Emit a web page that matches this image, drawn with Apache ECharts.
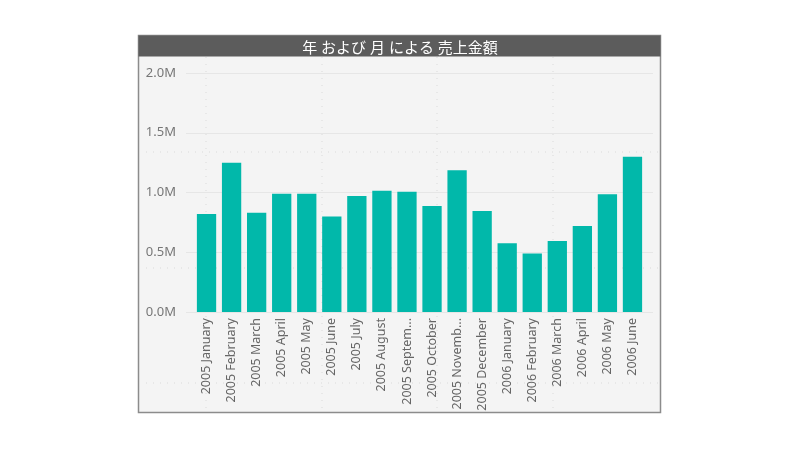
<!DOCTYPE html>
<html>
<head>
<meta charset="utf-8">
<script src="https://cdn.jsdelivr.net/npm/echarts@6/dist/echarts.min.js"></script>
<style>
  html, body { margin: 0; padding: 0; background: #fff; }
  #main { width: 800px; height: 450px; }
</style>
</head>
<body>
<div id="main"></div>
<script>
// 年および月による売上金額
const months = [
  '2005 January', '2005 February', '2005 March', '2005 April', '2005 May', '2005 June',
  '2005 July', '2005 August', '2005 September', '2005 October', '2005 November', '2005 December',
  '2006 January', '2006 February', '2006 March', '2006 April', '2006 May', '2006 June'
];
// labels as shown on the axis (long ones cut off)
const tickLabels = [
  '2005 January', '2005 February', '2005 March', '2005 April', '2005 May', '2005 June',
  '2005 July', '2005 August', '2005 Septem...', '2005 October', '2005 Novemb...', '2005 December',
  '2006 January', '2006 February', '2006 March', '2006 April', '2006 May', '2006 June'
];
const sales = [
  820000, 1250000, 830000, 990000, 990000, 800000,
  970000, 1015000, 1007000, 887000, 1186000, 845000,
  575000, 490000, 594000, 720000, 985000, 1300000
];
const yTicks = { min: 0, max: 2000000, interval: 500000 };

const font = '"Noto Sans", "Noto Sans CJK JP", sans-serif';
const fmtM = v => (v / 1000000).toFixed(1) + 'M';

// Power BI canvas dotted grid
const dotX = [206, 322, 437, 553];
const dotY = [152, 268, 383];
let dots = [];
dotX.forEach(x => dots.push({
  type: 'line', z: -5, silent: true,
  shape: { x1: x, y1: 57, x2: x, y2: 412 },
  style: { stroke: '#dadada', lineWidth: 1, lineDash: [1, 6] }
}));
dotY.forEach(y => dots.push({
  type: 'line', z: -5, silent: true,
  shape: { x1: 139, y1: y, x2: 660, y2: y },
  style: { stroke: '#dadada', lineWidth: 1, lineDash: [1, 6] }
}));

const chart = echarts.init(document.getElementById('main'));
chart.setOption({
  backgroundColor: '#ffffff',
  animation: false,
  textStyle: { fontFamily: font },
  title: {
    text: '年 および 月 による 売上金額',
    left: 'center',
    top: 36,
    textStyle: { color: '#ffffff', fontSize: 15, fontWeight: 'normal', fontFamily: font }
  },
  graphic: [
    {
      type: 'rect', z: -10, silent: true,
      shape: { x: 138.5, y: 35.5, width: 522, height: 377 },
      style: { fill: '#f4f4f4', stroke: '#8c8c8c', lineWidth: 1.5 }
    },
    {
      type: 'rect', z: -9, silent: true,
      shape: { x: 138.5, y: 35.5, width: 522, height: 21 },
      style: { fill: '#5c5c5c' }
    }
  ].concat(dots),
  grid: [
    { left: 186, right: 147, top: 73, bottom: 138 },
    { left: 194, right: 155, top: 73, bottom: 138 }
  ],
  xAxis: [
    { gridIndex: 0, type: 'category', data: months, show: false },
    {
      gridIndex: 1, type: 'category', data: months,
      axisLine: { show: false },
      axisTick: { show: false },
      axisLabel: {
        rotate: 90, margin: 6, interval: 0,
        color: '#666666', fontSize: 12.5, fontFamily: font,
        formatter: (v, i) => tickLabels[i]
      }
    }
  ],
  yAxis: [
    {
      gridIndex: 0, type: 'value',
      min: yTicks.min, max: yTicks.max, interval: yTicks.interval,
      axisLine: { show: false },
      axisTick: { show: false },
      axisLabel: { color: '#777777', fontSize: 13, margin: 10, formatter: fmtM, fontFamily: font },
      splitLine: { lineStyle: { color: '#e6e6e6', width: 1 } }
    },
    {
      gridIndex: 1, type: 'value',
      min: yTicks.min, max: yTicks.max, interval: yTicks.interval,
      show: false,
      splitLine: { show: false }
    }
  ],
  series: [{
    name: '売上金額',
    type: 'bar',
    xAxisIndex: 1,
    yAxisIndex: 1,
    data: sales,
    barCategoryGap: '23%',
    itemStyle: { color: '#01B8AA' }
  }]
});
</script>
</body>
</html>
